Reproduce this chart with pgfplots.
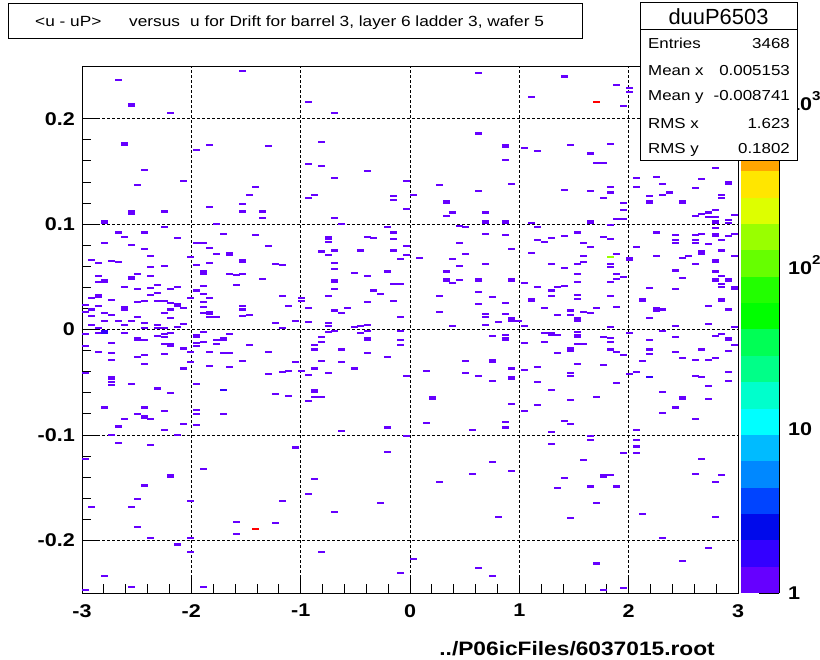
\documentclass[border=0pt]{standalone}
\usepackage{pgfplots}
\pgfplotsset{compat=1.18}
\usepackage{pgfplotstable}
\usepackage{fontspec}
\setmainfont{Liberation Sans}
\newfontfamily\wfont{Liberation Sans}[FakeStretch=1.17]
\newcommand\tickfont{\wfont\bfseries\fontsize{18.5}{18.5}\selectfont}
\newcommand\statfont{\wfont\fontsize{14.5}{14.5}\selectfont}
\newcommand\titlefont{\wfont\fontsize{14.8}{14.8}\selectfont}

\definecolor{p1}{RGB}{102,0,255}
\definecolor{p2}{RGB}{51,0,255}
\definecolor{p3}{RGB}{0,10,235}
\definecolor{p4}{RGB}{0,68,255}
\definecolor{p5}{RGB}{0,136,255}
\definecolor{p6}{RGB}{0,187,255}
\definecolor{p7}{RGB}{0,255,255}
\definecolor{p8}{RGB}{0,255,204}
\definecolor{p9}{RGB}{0,255,136}
\definecolor{p10}{RGB}{0,255,85}
\definecolor{p11}{RGB}{0,255,0}
\definecolor{p12}{RGB}{34,255,0}
\definecolor{p13}{RGB}{102,255,0}
\definecolor{p14}{RGB}{153,255,0}
\definecolor{p15}{RGB}{221,255,0}
\definecolor{p16}{RGB}{255,230,0}
\definecolor{p17}{RGB}{255,165,0}
\definecolor{p18}{RGB}{255,110,0}
\definecolor{p19}{RGB}{255,60,0}
\definecolor{p20}{RGB}{255,0,0}

\pgfdeclareplotmark{cell}{\pgfpathrectangle{\pgfpoint{-3.5bp}{-1.05bp}}{\pgfpoint{7bp}{2.1bp}}\pgfusepathqfill}
\pgfdeclareplotmark{tcell}{\pgfpathrectangle{\pgfpoint{-3.5bp}{-2.1bp}}{\pgfpoint{7bp}{4.2bp}}\pgfusepathqfill}

% single-count cells (one bin high)
\pgfplotstableread{
x y
-1.53 0.245
-2.67 0.237
-2.19 0.205
-0.93 0.216
-0.69 0.205
-1.95 0.170
-1.83 0.175
-1.29 0.174
-0.81 0.178
-0.93 0.157
-0.81 0.155
-2.43 0.151
-0.39 0.150
-0.69 0.144
-2.49 0.137
-2.07 0.141
-0.03 0.141
-1.41 0.135
-1.47 0.128
-0.87 0.128
-0.93 0.125
-0.15 0.127
-0.15 0.123
-2.25 0.112
-1.83 0.116
-1.53 0.119
-1.53 0.112
-1.35 0.112
-1.35 0.106
-0.69 0.106
-0.03 0.114
-1.77 0.100
-0.63 0.100
-0.21 0.097
-2.67 0.092
-2.43 0.092
-2.61 0.088
-2.25 0.097
-2.13 0.087
-1.71 0.091
-1.41 0.090
-0.39 0.088
-0.33 0.087
-0.15 0.092
-0.15 0.086
-0.75 0.083
-2.79 0.082
-2.55 0.080
-1.95 0.082
-1.89 0.082
-1.83 0.077
-1.29 0.079
-0.03 0.079
-2.43 0.076
-2.37 0.070
-1.77 0.072
-0.81 0.074
-0.75 0.071
-0.69 0.075
-0.45 0.075
-0.15 0.075
-0.03 0.071
-2.91 0.066
-2.85 0.063
-2.73 0.065
-2.67 0.064
-2.01 0.069
-1.95 0.061
-1.83 0.063
-1.23 0.062
-1.17 0.061
-0.69 0.063
-0.09 0.067
-2.37 0.059
-2.25 0.060
-2.49 0.053
-2.37 0.051
-2.85 0.051
-2.85 0.045
-1.65 0.053
-1.59 0.052
-1.53 0.053
-1.35 0.048
-0.69 0.057
-0.51 0.054
-0.39 0.051
-0.21 0.055
-2.61 0.040
-2.49 0.038
-2.37 0.039
-2.31 0.042
-2.19 0.038
-2.13 0.040
-2.37 0.033
-2.31 0.035
-1.89 0.041
-1.95 0.037
-1.59 0.042
-0.69 0.038
-0.33 0.037
-0.27 0.034
-0.15 0.043
-0.09 0.043
-2.91 0.030
-2.73 0.028
-2.01 0.030
-1.89 0.034
-1.83 0.030
-1.17 0.032
-0.99 0.030
-0.99 0.027
-0.75 0.032
-2.49 0.026
-2.43 0.027
-2.31 0.027
-2.25 0.027
-2.19 0.025
-2.07 0.020
-2.97 0.023
-2.91 0.019
-2.97 0.017
-2.85 0.022
-2.19 0.019
-1.89 0.026
-1.89 0.021
-1.89 0.016
-1.53 0.022
-1.53 0.019
-1.11 0.022
-0.93 0.020
-0.69 0.018
-0.63 0.016
-0.57 0.020
-0.39 0.026
-0.15 0.027
-2.79 0.016
-2.73 0.014
-2.91 0.013
-2.49 0.012
-2.25 0.016
-2.19 0.011
-1.83 0.012
-1.77 0.012
-1.53 0.013
-1.47 0.014
-0.09 0.012
-2.79 0.008
-2.67 0.008
-2.55 0.008
-2.43 0.006
-2.61 0.004
-2.31 0.004
-2.91 0.004
-2.85 0.001
-2.43 0.001
-2.31 0.001
-2.25 0.001
-2.13 0.002
-2.07 0.005
-1.23 0.006
-1.17 0.001
-1.05 0.008
-0.93 0.007
-0.75 0.006
-0.75 0.003
-0.51 0.002
-0.45 0.003
-0.39 0.004
0.63 0.243
1.41 0.240
1.89 0.232
2.01 0.229
2.01 0.225
1.11 0.221
1.95 0.212
0.63 0.186
1.83 0.176
1.05 0.172
1.17 0.169
1.47 0.175
1.65 0.167
0.87 0.161
1.71 0.158
1.77 0.158
0.27 0.137
0.93 0.138
0.63 0.131
1.41 0.132
1.83 0.135
1.65 0.131
1.83 0.130
0.03 0.128
1.77 0.125
0.39 0.111
0.33 0.108
0.69 0.111
1.95 0.120
1.95 0.113
1.89 0.105
1.95 0.105
1.11 0.101
0.45 0.098
0.51 0.097
1.83 0.099
2.07 0.144
2.25 0.145
2.07 0.135
2.31 0.138
2.19 0.127
2.31 0.128
2.37 0.130
2.67 0.143
2.61 0.134
2.79 0.153
2.85 0.128
2.85 0.125
2.67 0.110
2.73 0.111
2.79 0.113
2.61 0.108
2.73 0.107
2.79 0.107
2.97 0.109
2.91 0.104
2.91 0.101
0.69 0.091
0.87 0.090
1.17 0.097
1.17 0.085
1.23 0.083
1.29 0.087
1.41 0.089
1.53 0.092
1.77 0.088
1.83 0.086
2.25 0.092
2.43 0.090
2.43 0.085
2.43 0.082
2.61 0.090
2.61 0.085
2.61 0.082
2.67 0.091
2.73 0.081
2.79 0.096
2.85 0.085
2.91 0.089
2.97 0.091
0.45 0.082
0.93 0.076
1.11 0.073
1.59 0.082
1.65 0.078
0.51 0.072
0.09 0.068
0.39 0.067
1.59 0.070
1.89 0.072
2.07 0.078
2.25 0.070
2.49 0.068
2.55 0.070
2.67 0.074
2.67 0.072
2.85 0.075
2.97 0.070
0.69 0.062
0.45 0.060
1.29 0.062
1.53 0.062
1.59 0.064
1.83 0.062
1.83 0.059
2.61 0.062
2.43 0.056
1.41 0.058
0.33 0.055
0.39 0.044
0.45 0.047
1.53 0.053
1.89 0.053
1.95 0.050
1.89 0.048
2.49 0.049
2.79 0.055
2.85 0.051
2.85 0.043
2.85 0.040
1.53 0.045
1.83 0.045
1.05 0.044
1.17 0.040
1.29 0.037
1.35 0.040
1.41 0.041
2.19 0.039
2.43 0.038
0.63 0.036
0.27 0.032
0.75 0.031
1.29 0.032
1.53 0.033
1.53 0.029
1.83 0.032
0.63 0.024
0.87 0.025
2.73 0.022
1.23 0.020
1.89 0.021
1.71 0.020
2.31 0.019
2.91 0.019
0.27 0.017
0.69 0.015
0.69 0.012
0.87 0.015
1.35 0.014
1.47 0.018
1.47 0.014
1.59 0.017
1.65 0.016
2.19 0.011
0.99 0.008
0.81 0.007
0.69 0.004
0.39 0.003
1.05 0.003
1.83 0.002
2.43 0.003
2.73 0.005
2.97 0.002
-2.97 -0.004
-2.85 -0.003
-2.61 -0.003
-2.31 -0.006
-2.25 -0.004
-2.19 -0.003
-2.25 -0.007
-2.43 -0.010
-2.73 -0.013
-2.25 -0.014
-1.89 -0.002
-1.95 -0.013
-1.89 -0.012
-1.95 -0.016
-1.77 -0.010
-1.77 -0.014
-1.65 -0.004
-1.47 -0.015
-2.97 -0.016
-2.85 -0.021
-2.73 -0.022
-2.49 -0.026
-2.43 -0.024
-2.25 -0.023
-2.07 -0.018
-2.01 -0.021
-1.83 -0.021
-1.71 -0.022
-1.65 -0.022
-1.29 -0.021
-2.73 -0.029
-2.43 -0.033
-2.01 -0.031
-2.07 -0.037
-1.83 -0.035
-1.65 -0.036
-1.53 -0.030
-1.29 -0.042
-1.17 -0.040
-1.11 -0.039
-1.05 -0.031
-0.99 -0.039
-0.93 -0.043
-2.97 -0.041
-2.73 -0.050
-2.73 -0.053
-2.55 -0.052
-2.31 -0.056
-2.19 -0.060
-1.95 -0.052
-1.23 -0.061
-1.11 -0.063
-0.87 -0.064
-0.81 -0.064
-0.93 -0.068
-0.81 -0.007
-0.75 -0.002
-0.69 -0.001
-0.81 -0.012
-0.87 -0.015
-0.87 -0.019
-0.63 -0.019
-0.81 -0.030
-0.63 -0.031
-0.87 -0.037
-0.75 -0.041
-0.51 -0.037
-0.45 -0.003
-0.39 -0.001
-0.39 -0.022
-0.21 -0.026
-0.09 -0.001
-0.09 -0.010
-0.09 -0.015
-0.03 -0.044
-2.79 -0.074
-2.43 -0.074
-2.49 -0.080
-2.61 -0.085
-2.37 -0.085
-2.25 -0.077
-1.95 -0.076
-1.95 -0.080
-1.71 -0.080
-2.67 -0.092
-2.25 -0.095
-2.07 -0.090
-1.95 -0.091
-2.73 -0.100
-2.13 -0.100
-0.63 -0.096
-0.21 -0.093
-0.03 -0.101
-2.67 -0.108
-2.37 -0.110
-1.05 -0.112
-0.21 -0.116
-2.97 -0.123
-1.89 -0.132
-2.43 -0.148
-0.87 -0.142
-0.93 -0.156
-2.49 -0.161
-2.91 -0.168
-2.55 -0.168
-2.01 -0.163
-1.17 -0.163
-0.27 -0.165
-0.69 -0.173
-1.59 -0.183
-1.23 -0.184
-2.49 -0.187
-1.59 -0.194
-2.37 -0.198
-2.01 -0.198
-2.13 -0.204
-2.01 -0.211
-0.81 -0.211
-2.79 -0.234
-0.09 -0.231
-2.55 -0.244
-1.89 -0.244
-2.97 -0.247
0.75 -0.006
0.87 -0.005
1.23 -0.003
1.35 -0.005
1.53 -0.002
1.77 -0.007
1.83 -0.008
2.01 -0.003
2.31 -0.001
2.43 -0.007
2.79 -0.006
2.85 -0.004
2.97 -0.015
1.05 -0.013
1.23 -0.012
1.53 -0.014
1.59 -0.014
1.83 -0.012
1.35 -0.022
1.83 -0.019
1.89 -0.021
1.95 -0.024
2.19 -0.010
2.19 -0.019
2.19 -0.023
2.43 -0.021
2.67 -0.019
2.91 -0.020
2.49 -0.027
2.61 -0.029
2.73 -0.029
2.79 -0.027
2.13 -0.030
0.51 -0.030
1.53 -0.033
1.77 -0.034
1.17 -0.036
1.05 -0.038
0.15 -0.039
0.51 -0.041
0.63 -0.044
0.93 -0.037
1.47 -0.041
1.47 -0.044
2.01 -0.042
2.07 -0.040
2.61 -0.044
2.67 -0.045
2.91 -0.040
0.75 -0.049
1.17 -0.050
1.89 -0.051
2.91 -0.049
2.73 -0.054
1.29 -0.057
2.31 -0.059
0.93 -0.071
1.71 -0.064
1.47 -0.067
2.73 -0.066
1.05 -0.077
1.17 -0.072
2.43 -0.074
2.31 -0.079
2.61 -0.085
0.15 -0.089
0.87 -0.088
0.87 -0.093
0.57 -0.095
1.41 -0.087
1.47 -0.090
1.29 -0.097
2.07 -0.095
1.65 -0.101
1.65 -0.105
2.07 -0.105
2.07 -0.111
2.07 -0.117
1.29 -0.109
1.95 -0.117
0.75 -0.126
0.93 -0.134
0.57 -0.137
0.27 -0.145
1.59 -0.124
1.41 -0.141
1.83 -0.138
1.35 -0.150
1.65 -0.149
1.89 -0.149
2.67 -0.123
2.61 -0.137
2.85 -0.138
2.79 -0.145
1.71 -0.165
1.47 -0.179
0.81 -0.178
2.13 -0.175
2.79 -0.178
2.31 -0.198
2.73 -0.207
2.49 -0.220
0.03 -0.218
0.63 -0.226
0.75 -0.234
1.71 -0.222
1.77 -0.247
1.95 -0.245
}\cellsA

% single-count cells spanning two y bins
\pgfplotstableread{
x y
-2.55 0.213
-2.61 0.176
-2.55 0.111
-2.79 0.102
-0.75 0.087
-1.65 0.072
-1.53 0.065
-2.55 0.049
-2.79 0.046
-1.89 0.054
-0.69 0.046
-2.85 0.032
-2.13 0.023
-2.61 0.020
-1.83 0.016
0.87 0.174
0.33 0.121
0.69 0.102
0.87 0.102
1.65 0.102
2.19 0.121
2.49 0.121
2.91 0.139
2.79 0.102
2.79 0.090
2.01 0.067
2.79 0.065
0.33 0.047
0.63 0.047
0.93 0.047
2.79 0.047
2.91 0.047
2.97 0.039
2.13 0.028
1.11 0.028
2.85 0.028
2.25 0.019
0.93 0.0095
1.53 0.0095
-2.49 -0.009
-2.19 -0.015
-1.95 -0.006
-1.71 -0.009
-2.73 -0.046
-0.87 -0.058
-0.39 -0.009
-2.43 -0.083
-2.19 -0.139
0.87 -0.009
1.29 -0.004
1.53 -0.006
2.91 -0.009
1.47 -0.019
0.75 -0.030
0.93 -0.046
0.21 -0.065
2.49 -0.065
1.77 -0.139
}\cellsB

% two-count cells
\pgfplotstableread{
x y
-1.71 -0.057
2.19 -0.045
}\cellsC
\pgfplotstableread{
x y
-2.79 -0.002
}\cellsD

% high-count cells
\pgfplotstableread{
x y
1.71 0.216
-1.41 -0.189
}\cellsRed
\pgfplotstableread{
x y
1.83 0.069
}\cellsYG

\begin{document}
\begin{tikzpicture}
\useasboundingbox (0,0) rectangle (820bp,660bp);

\begin{axis}[
  at={(82bp,67bp)}, anchor=south west,
  width=656bp, height=527bp, scale only axis,
  xmin=-3, xmax=3, ymin=-0.25, ymax=0.25,
  xtick={-3,-2,-1,0,1,2,3}, xticklabels={-3,-2,-1,0,1,2,3},
  ytick={-0.2,-0.1,0,0.1,0.2}, yticklabels={-0.2,-0.1,0,0.1,0.2},
  minor x tick num=4, minor y tick num=4,
  tick align=inside, xtick pos=left, ytick pos=left,
  major tick length=17bp, minor tick length=8.5bp,
  tick style={black, line width=0.8bp},
  grid=major,
  major grid style={black, line width=0.7bp, dash pattern=on 3bp off 2bp},
  axis line style={line width=1bp},
  tick label style={font=\tickfont, inner sep=0pt},
  xticklabel style={anchor=north, yshift=-11bp},
  yticklabel style={anchor=east, xshift=-7bp},
  clip=false,
]
\addplot[only marks, mark=cell, color=p1] table[x=x, y=y] {\cellsA};
\addplot[only marks, mark=tcell, color=p1] table[x=x, y=y] {\cellsB};
\addplot[only marks, mark=cell, color=p2] table[x=x, y=y] {\cellsC};
\addplot[only marks, mark=tcell, color=p2] table[x=x, y=y] {\cellsD};
\addplot[only marks, mark=cell, color=p20] table[x=x, y=y] {\cellsRed};
\addplot[only marks, mark=cell, color=p14] table[x=x, y=y] {\cellsYG};
\end{axis}

\begin{axis}[
  at={(741bp,67bp)}, anchor=south west,
  width=38bp, height=527bp, scale only axis,
  xmin=0, xmax=1, ymin=0, ymax=3.212,
  axis x line=none, axis y line*=right,
  axis line style={black, line width=1bp, -},
  ytick={0,1,2,3},
  yticklabels={1,10,{10\raisebox{0.55em}{\fontsize{13}{13}\selectfont 2}},{10\raisebox{0.55em}{\fontsize{13}{13}\selectfont 3}}},
  minor ytick={0.301,0.477,0.602,0.699,0.778,0.845,0.903,0.954,1.301,1.477,1.602,1.699,1.778,1.845,1.903,1.954,2.301,2.477,2.602,2.699,2.778,2.845,2.903,2.954},
  tick align=inside,
  major tick length=19.7bp, minor tick length=9.7bp,
  tick style={black, line width=0.8bp},
  yticklabel style={font=\tickfont, anchor=west, inner sep=0pt, xshift=9bp},
  clip=false,
]
\addplot[draw=none, fill=p1]  coordinates {(0,0) (1,0) (1,0.1606) (0,0.1606)} -- cycle;
\addplot[draw=none, fill=p2]  coordinates {(0,0.1606) (1,0.1606) (1,0.3212) (0,0.3212)} -- cycle;
\addplot[draw=none, fill=p3]  coordinates {(0,0.3212) (1,0.3212) (1,0.4818) (0,0.4818)} -- cycle;
\addplot[draw=none, fill=p4]  coordinates {(0,0.4818) (1,0.4818) (1,0.6424) (0,0.6424)} -- cycle;
\addplot[draw=none, fill=p5]  coordinates {(0,0.6424) (1,0.6424) (1,0.8030) (0,0.8030)} -- cycle;
\addplot[draw=none, fill=p6]  coordinates {(0,0.8030) (1,0.8030) (1,0.9636) (0,0.9636)} -- cycle;
\addplot[draw=none, fill=p7]  coordinates {(0,0.9636) (1,0.9636) (1,1.1242) (0,1.1242)} -- cycle;
\addplot[draw=none, fill=p8]  coordinates {(0,1.1242) (1,1.1242) (1,1.2848) (0,1.2848)} -- cycle;
\addplot[draw=none, fill=p9]  coordinates {(0,1.2848) (1,1.2848) (1,1.4454) (0,1.4454)} -- cycle;
\addplot[draw=none, fill=p10] coordinates {(0,1.4454) (1,1.4454) (1,1.6060) (0,1.6060)} -- cycle;
\addplot[draw=none, fill=p11] coordinates {(0,1.6060) (1,1.6060) (1,1.7666) (0,1.7666)} -- cycle;
\addplot[draw=none, fill=p12] coordinates {(0,1.7666) (1,1.7666) (1,1.9272) (0,1.9272)} -- cycle;
\addplot[draw=none, fill=p13] coordinates {(0,1.9272) (1,1.9272) (1,2.0878) (0,2.0878)} -- cycle;
\addplot[draw=none, fill=p14] coordinates {(0,2.0878) (1,2.0878) (1,2.2484) (0,2.2484)} -- cycle;
\addplot[draw=none, fill=p15] coordinates {(0,2.2484) (1,2.2484) (1,2.4090) (0,2.4090)} -- cycle;
\addplot[draw=none, fill=p16] coordinates {(0,2.4090) (1,2.4090) (1,2.5696) (0,2.5696)} -- cycle;
\addplot[draw=none, fill=p17] coordinates {(0,2.5696) (1,2.5696) (1,2.7302) (0,2.7302)} -- cycle;
\addplot[draw=none, fill=p18] coordinates {(0,2.7302) (1,2.7302) (1,2.8908) (0,2.8908)} -- cycle;
\addplot[draw=none, fill=p19] coordinates {(0,2.8908) (1,2.8908) (1,3.0514) (0,3.0514)} -- cycle;
\addplot[draw=none, fill=p20] coordinates {(0,3.0514) (1,3.0514) (1,3.2120) (0,3.2120)} -- cycle;
\end{axis}

% title box
\draw[line width=1bp, fill=white] (8bp,621bp) rectangle (582bp,656bp);
\node[anchor=base west, inner sep=0pt, font=\titlefont] at (35bp,633bp) {<u - uP>};
\node[anchor=base west, inner sep=0pt, font=\titlefont] at (129bp,633bp) {versus};
\node[anchor=base west, inner sep=0pt, font=\titlefont] at (190bp,633bp) {u for Drift for barrel 3, layer 6 ladder 3, wafer 5};

% stats box
\draw[line width=1bp, fill=white] (640bp,499bp) rectangle (797bp,657bp);
\draw[line width=1bp] (640bp,630bp) -- (797bp,630bp);
\node[inner sep=0pt, font=\fontsize{22}{22}\selectfont] at (718.5bp,643bp) {duuP6503};
\node[anchor=base west, inner sep=0pt, font=\statfont] at (648bp,611bp) {Entries};
\node[anchor=base east, inner sep=0pt, font=\statfont] at (790bp,611bp) {3468};
\node[anchor=base west, inner sep=0pt, font=\statfont] at (648bp,584bp) {Mean x};
\node[anchor=base east, inner sep=0pt, font=\statfont] at (790bp,584bp) {0.005153};
\node[anchor=base west, inner sep=0pt, font=\statfont] at (648bp,559bp) {Mean y};
\node[anchor=base east, inner sep=0pt, font=\statfont] at (790bp,559bp) {-0.008741};
\node[anchor=base west, inner sep=0pt, font=\statfont] at (648bp,531bp) {RMS x};
\node[anchor=base east, inner sep=0pt, font=\statfont] at (790bp,531bp) {1.623};
\node[anchor=base west, inner sep=0pt, font=\statfont] at (648bp,506bp) {RMS y};
\node[anchor=base east, inner sep=0pt, font=\statfont] at (790bp,506bp) {0.1802};

% file name
\node[anchor=base east, inner sep=0pt, font=\wfont\bfseries\fontsize{19.5}{19.5}\selectfont] at (715bp,5bp) {../P06icFiles/6037015.root};
\end{tikzpicture}
\end{document}
